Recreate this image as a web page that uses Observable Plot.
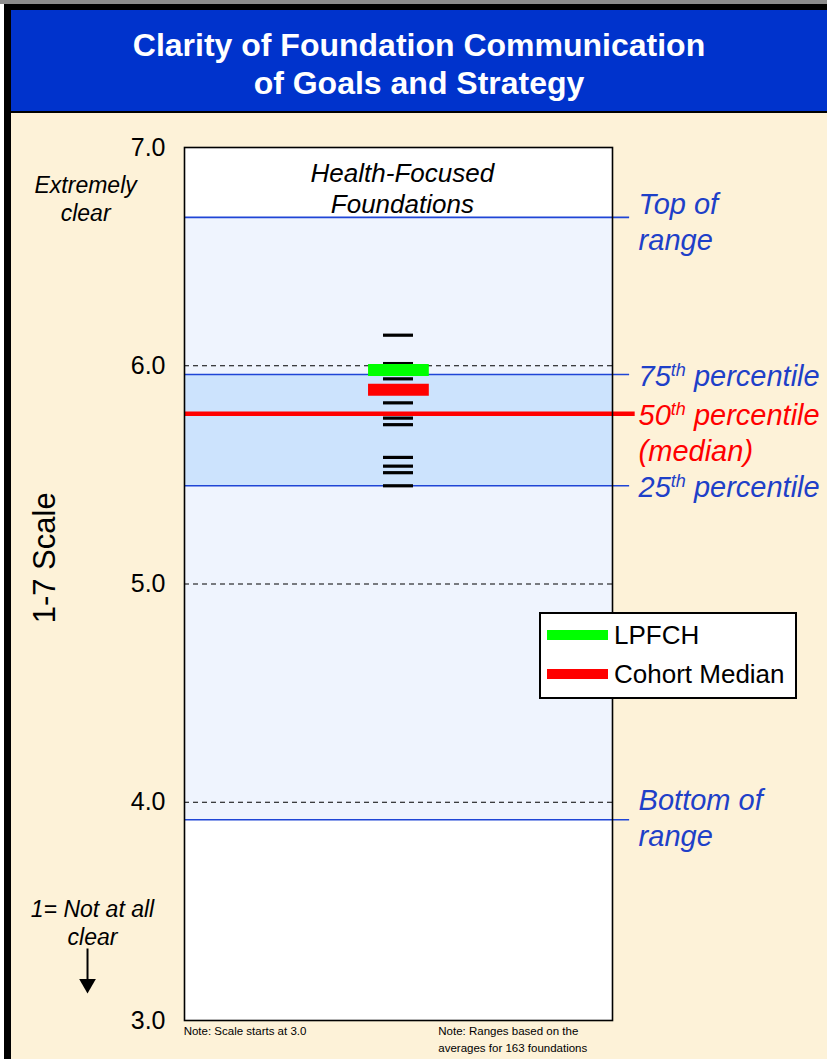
<!DOCTYPE html>
<html>
<head>
<meta charset="utf-8">
<script src="https://cdn.jsdelivr.net/npm/d3@7"></script>
<script src="https://cdn.jsdelivr.net/npm/@observablehq/plot@0.6"></script>
<style>
  html, body { margin: 0; padding: 0; background: #fff; }
  body { width: 827px; height: 1059px; position: relative; overflow: hidden; font-family: "Liberation Sans", Arial, sans-serif; }
  #gray { position: absolute; left: 0; top: 0; width: 827px; height: 4px; background: #8c8c8c; }
  #blackTop { position: absolute; left: 4px; top: 4px; width: 823px; height: 6px; background: #000; }
  #blackLeft { position: absolute; left: 4px; top: 4px; width: 7px; height: 1055px; background: #000; }
  #title { position: absolute; left: 11px; top: 10px; width: 816px; height: 101px; background: #0033CC;
           border-bottom: 2px solid #000; color: #fff; font-weight: bold; font-size: 32px; line-height: 38px;
           text-align: center; }
  #title .inner { position: absolute; left: 0; right: 0; top: 16px; }
  #chart { position: absolute; left: 11px; top: 113px; width: 816px; height: 946px; background: #FDF2D8; }
  #legend { position: absolute; left: 539px; top: 612px; width: 254px; height: 83px; background: #fff; border: 2px solid #000; }
  #legend .sw { position: absolute; left: 6px; width: 61px; height: 10px; }
  #legend .lb { position: absolute; left: 73px; font-size: 26px; line-height: 26px; color: #000; }
</style>
</head>
<body>
<div id="gray"></div>
<div id="blackTop"></div>
<div id="blackLeft"></div>
<div id="title"><div class="inner">Clarity of Foundation Communication<br>of Goals and Strategy</div></div>
<div id="chart"></div>
<div id="legend"></div>
<script>
// ---- data ----
const yTicks = [3, 4, 5, 6, 7];
const yTickLabels = ["3.0", "4.0", "5.0", "6.0", "7.0"];
const gridLines = [4, 5, 6];
const rangeTop = 6.68;
const rangeBottom = 3.92;
const pct75 = 5.96;
const pct50 = 5.78;
const pct25 = 5.45;
const foundationScores = [6.14, 6.01, 5.94, 5.83, 5.76, 5.73, 5.58, 5.54, 5.51, 5.45];
const lpfchScore = 5.98;
const cohortMedian = 5.89;
const legendNames = ["LPFCH", "Cohort Median"];
const legendColors = ["#00FF00", "#FF0000"];
const rightLabels = [
  {text: "Top of\nrange", y: 6.666, color: "#1E40C8"},
  {text: "75th percentile", y: 5.96, color: "#1E40C8"},
  {text: "50th percentile", y: 5.78, color: "#FF0000"},
  {text: "(median)", y: 5.616, color: "#FF0000"},
  {text: "25th percentile", y: 5.45, color: "#1E40C8"},
  {text: "Bottom of\nrange", y: 3.935, color: "#1E40C8"}
];
const leftLabels = [
  {text: "Extremely\nclear", x: -0.231, y: 6.77},
  {text: "1= Not at all\nclear", x: -0.215, y: 3.452}
];
const panelTitle = [{text: "Health-Focused\nFoundations", x: 0.509, y: 6.817}];
const axisTitle = [{text: "1-7 Scale", x: -0.325, y: 5.12}];
const arrowShaft = [{x: -0.2266, y1: 3.330, y2: 3.19}];
const arrowHead = [{x: -0.2266, y: 3.168}];
const notes = [
  {text: "Note: Scale starts at 3.0", x: -0.002, y: 3},
  {text: "Note: Ranges based on the\naverages for 163 foundations", x: 0.593, y: 3}
];

const blueLine = "#1F45D6";

const chart = Plot.plot({
  width: 816,
  height: 946,
  marginLeft: 173,
  marginRight: 215,
  marginTop: 34,
  marginBottom: 39,
  x: {domain: [0, 1], axis: null},
  y: {domain: [3, 7], axis: null},
  style: {fontFamily: "'Liberation Sans', Arial, sans-serif", background: "transparent", overflow: "visible", color: "#000"},
  marks: [
    Plot.frame({fill: "#fff", stroke: "none"}),
    Plot.rect([{lo: rangeBottom, hi: rangeTop}], {y1: "lo", y2: "hi", fill: "#EFF4FE"}),
    Plot.rect([{lo: pct25, hi: pct75}], {y1: "lo", y2: "hi", fill: "#CCE3FD"}),
    Plot.ruleY(gridLines, {stroke: "#000", strokeWidth: 1, strokeDasharray: "5,4"}),
    Plot.ruleY([rangeTop, pct75, pct25, rangeBottom], {x1: 0, x2: 1.04, stroke: blueLine, strokeWidth: 1.6}),
    Plot.ruleY([pct50], {x1: 0, x2: 1.053, stroke: "#FF0000", strokeWidth: 4.5}),
    Plot.ruleY(foundationScores, {x1: 0.465, x2: 0.535, stroke: "#000", strokeWidth: 3.2}),
    Plot.ruleY([lpfchScore], {x1: 0.43, x2: 0.572, stroke: legendColors[0], strokeWidth: 12}),
    Plot.ruleY([cohortMedian], {x1: 0.43, x2: 0.572, stroke: legendColors[1], strokeWidth: 12}),
    Plot.frame({stroke: "#000", strokeWidth: 1.6}),
    Plot.axisY(yTicks, {tickSize: 0, tickPadding: 19, fontSize: 25, label: null,
      tickFormat: d => yTickLabels[yTicks.indexOf(d)]}),
    Plot.text(axisTitle, {x: "x", y: "y", text: "text", rotate: -90, fontSize: 31, fill: "#000"}),
    Plot.text(leftLabels, {x: "x", y: "y", text: "text", fontSize: 23, fontStyle: "italic", lineHeight: 1.22, fill: "#000"}),
    Plot.link(arrowShaft, {x1: "x", x2: "x", y1: "y1", y2: "y2", stroke: "#000", strokeWidth: 2}),
    Plot.dot(arrowHead, {x: "x", y: "y", symbol: "triangle", r: 6.2, rotate: 180, fill: "#000", stroke: "none"}),
    Plot.text(panelTitle, {x: "x", y: "y", text: "text", fontSize: 26, fontStyle: "italic", lineHeight: 1.2, fill: "#000"}),
    Plot.text(rightLabels, {x: 1.061, y: "y", text: "text", textAnchor: "start", fontSize: 29, fontStyle: "italic", lineHeight: 1.24, fill: "color"}),
    Plot.text(notes, {x: "x", y: "y", text: "text", textAnchor: "start", lineAnchor: "top", dy: 3, fontSize: 11.5, lineHeight: 1.45, fill: "#000"})
  ]
});

// superscript ordinal suffixes
d3.select(chart).selectAll("text").each(function() {
  if (this.children.length) return;
  const m = this.textContent.match(/^(\d+)th (.+)$/);
  if (!m) return;
  const t = d3.select(this);
  t.text(null);
  t.append("tspan").text(m[1]);
  t.append("tspan").attr("font-size", "18px").attr("dy", "-10").text("th");
  t.append("tspan").attr("dy", "10").text("\u00a0" + m[2]);
});

document.getElementById("chart").appendChild(chart);

// legend
const legend = d3.select("#legend");
legendNames.forEach((name, i) => {
  legend.append("div").attr("class", "sw").style("top", (16 + i * 39) + "px").style("background", legendColors[i]);
  legend.append("div").attr("class", "lb").style("top", (8 + i * 39) + "px").text(name);
});
</script>
</body>
</html>
